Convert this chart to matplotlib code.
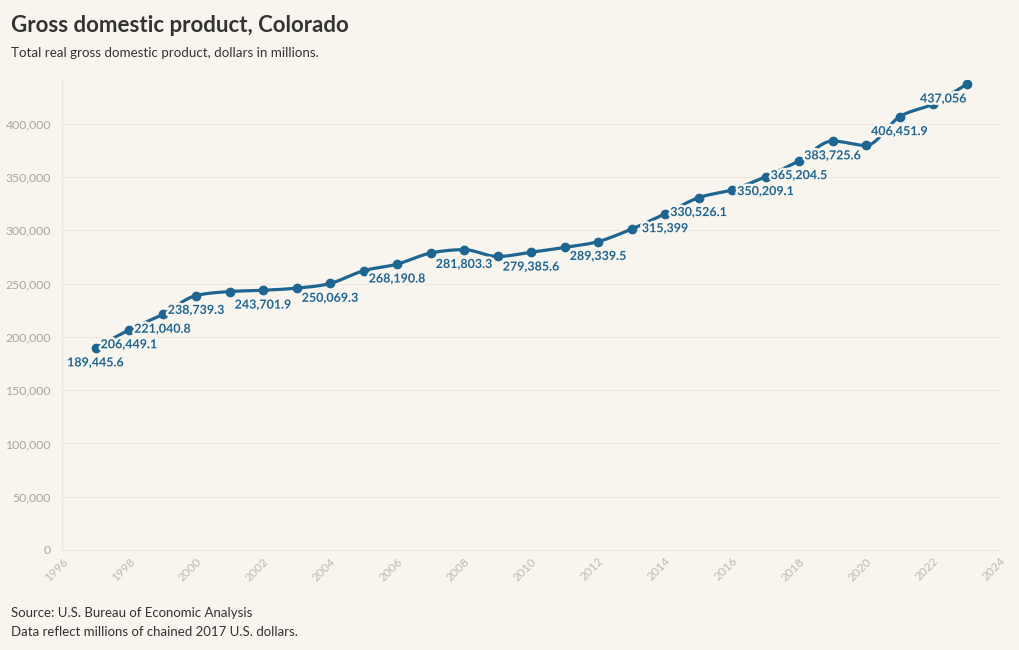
import numpy as np
import matplotlib
matplotlib.use("Agg")
import matplotlib.pyplot as plt
import matplotlib.patheffects as pe
from matplotlib.ticker import FuncFormatter

years = list(range(1997, 2024))
gdp = [189445.6, 206449.1, 221040.8, 238739.3, 242500, 243701.9, 245700,
       250069.3, 262000, 268190.8, 278600, 281803.3, 275400, 279385.6,
       283900, 289339.5, 301100, 315399, 330526.1, 338000, 350209.1,
       365204.5, 383725.6, 379600, 406451.9, 418500, 437056]
label_years = [1997, 1998, 1999, 2000, 2002, 2004, 2006, 2008, 2010, 2012,
               2014, 2015, 2017, 2018, 2019, 2021, 2023]

bg = "#f8f5ef"
blue = "#1f6591"
font = "Lato"


def monotone_curve(x, y, n=20):
    # d3 curveMonotoneX style path through the points
    x = np.asarray(x, float)
    y = np.asarray(y, float)
    h = np.diff(x)
    s = np.diff(y) / h
    m = np.zeros_like(y)
    for i in range(1, len(y) - 1):
        p = (s[i - 1] * h[i] + s[i] * h[i - 1]) / (h[i - 1] + h[i])
        m[i] = (np.sign(s[i - 1]) + np.sign(s[i])) * min(abs(s[i - 1]), abs(s[i]), 0.5 * abs(p))
    m[0] = (3 * s[0] - m[1]) / 2
    m[-1] = (3 * s[-1] - m[-2]) / 2
    xs, ys = [], []
    for i in range(len(h)):
        t = np.linspace(0, 1, n, endpoint=False)
        h00 = 2 * t**3 - 3 * t**2 + 1
        h10 = t**3 - 2 * t**2 + t
        h01 = -2 * t**3 + 3 * t**2
        h11 = t**3 - t**2
        xs.append(x[i] + t * h[i])
        ys.append(h00 * y[i] + h10 * h[i] * m[i] + h01 * y[i + 1] + h11 * h[i] * m[i + 1])
    xs.append([x[-1]])
    ys.append([y[-1]])
    return np.concatenate(xs), np.concatenate(ys)


def fmt_value(v):
    s = f"{v:,.1f}"
    return s[:-2] if s.endswith(".0") else s


fig = plt.figure(figsize=(10.2, 6.5), dpi=100, facecolor=bg)
ax = fig.add_axes([62 / 1020, 100 / 650, 938 / 1020, 470 / 650])
ax.set_facecolor(bg)

cx, cy = monotone_curve(years, gdp)
ax.plot(cx, cy, color=blue, lw=2.3, zorder=3, solid_capstyle="round")
ax.plot(years, gdp, "o", color=blue, ms=6, zorder=4)

for yr, val in zip(years, gdp):
    if yr not in label_years:
        continue
    ha = "right" if yr == 2023 else "center"
    ax.annotate(fmt_value(val), (yr, val), xytext=(0, -6), textcoords="offset points",
                ha=ha, va="top", fontsize=9.0, fontweight="bold", color=blue,
                family=font, zorder=5,
                path_effects=[pe.withStroke(linewidth=3.5, foreground=bg)])

ax.set_xlim(1996, 2024)
ax.set_ylim(0, 441000)
ax.set_xticks(range(1996, 2025, 2))
ax.set_yticks(range(0, 400001, 50000))
ax.yaxis.set_major_formatter(FuncFormatter(lambda v, p: f"{int(v):,}"))
ax.grid(axis="y", color="#ebe7df", lw=0.8)
ax.set_axisbelow(True)
for side in ["top", "right"]:
    ax.spines[side].set_visible(False)
ax.spines["left"].set_color("#ebe7df")
ax.spines["bottom"].set_color("#ebe7df")
ax.tick_params(axis="y", length=0, pad=8, labelsize=8.8, labelcolor="#a9a6a0")
ax.tick_params(axis="x", length=0, pad=4, labelsize=8.6, labelcolor="#bdbab4")
for lab in ax.get_yticklabels():
    lab.set_family(font)
for lab in ax.get_xticklabels():
    lab.set_family(font)
    lab.set_rotation(45)
    lab.set_ha("right")
    lab.set_va("top")
    lab.set_rotation_mode("anchor")

fig.text(11 / 1020, 1 - 25 / 650, "Gross domestic product, Colorado", fontsize=16,
         fontweight="bold", color="#333333", family=font, va="center")
fig.text(11 / 1020, 1 - 53 / 650, "Total real gross domestic product, dollars in millions.",
         fontsize=9.6, color="#333333", family=font, va="center")
fig.text(11 / 1020, 1 - 613 / 650, "Source: U.S. Bureau of Economic Analysis",
         fontsize=9.5, color="#333333", family=font, va="center")
fig.text(11 / 1020, 1 - 632 / 650, "Data reflect millions of chained 2017 U.S. dollars.",
         fontsize=9.5, color="#333333", family=font, va="center")

fig.savefig("out.png", dpi=100, facecolor=bg)
